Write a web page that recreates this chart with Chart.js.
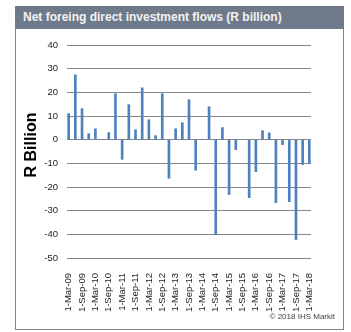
<!DOCTYPE html>
<html>
<head>
<meta charset="utf-8">
<script src="https://cdn.jsdelivr.net/npm/chart.js@4/dist/chart.umd.min.js"></script>
<style>
  body { margin: 0; background: #fff; }
  #frame { position: absolute; left: 15px; top: 6px; width: 327px; height: 322px; border: 1px solid #7f868e; }
  #head { position: absolute; left: 15px; top: 6px; width: 329px; height: 23px; background: #6e7a8a;
          color: #f2f2f2; font: bold 12px "Liberation Sans", Arial, sans-serif; line-height: 23px;
          padding-left: 8px; box-sizing: border-box; }
  #c { position: absolute; left: 0; top: 0; }
</style>
</head>
<body>
<div id="frame"></div>
<div id="head">Net foreing direct investment flows (R billion)</div>
<canvas id="c" width="351" height="332"></canvas>
<script>
const quarters = [
  "1-Mar-09", "1-Jun-09", "1-Sep-09", "1-Dec-09",
  "1-Mar-10", "1-Jun-10", "1-Sep-10", "1-Dec-10",
  "1-Mar-11", "1-Jun-11", "1-Sep-11", "1-Dec-11",
  "1-Mar-12", "1-Jun-12", "1-Sep-12", "1-Dec-12",
  "1-Mar-13", "1-Jun-13", "1-Sep-13", "1-Dec-13",
  "1-Mar-14", "1-Jun-14", "1-Sep-14", "1-Dec-14",
  "1-Mar-15", "1-Jun-15", "1-Sep-15", "1-Dec-15",
  "1-Mar-16", "1-Jun-16", "1-Sep-16", "1-Dec-16",
  "1-Mar-17", "1-Jun-17", "1-Sep-17", "1-Dec-17",
  "1-Mar-18"
];

const fdiFlows = [
  11.0, 27.4, 13.1, 2.5,
  4.6, 0, 3.0, 19.4,
  -8.3, 14.8, 4.2, 21.9,
  8.4, 1.7, 19.4, -16.3,
  4.6, 7.2, 16.9, -12.9,
  0, 13.9, -40.1, 5.1,
  -23.2, -4.2, 0, -24.5,
  -13.5, 3.8, 2.9, -26.6,
  -2.1, -26.2, -42.2, -10.5,
  -10.1
];

// every other quarter gets a label (Mar / Sep)
const tickLabels = quarters.filter((q, i) => i % 2 === 0);

const yTicks = [-50, -40, -30, -20, -10, 0, 10, 20, 30, 40];

const FONT = '"Liberation Sans", Arial, sans-serif';

const extras = {
  id: "extras",
  afterDraw(chart) {
    const ctx = chart.ctx;
    ctx.save();
    ctx.fillStyle = "#000";
    ctx.font = "bold 16px " + FONT;
    ctx.textAlign = "center";
    ctx.textBaseline = "middle";
    ctx.translate(32, 145);
    ctx.rotate(-Math.PI / 2);
    ctx.fillText("R Billion", 0, 0);
    ctx.restore();

    ctx.save();
    ctx.fillStyle = "#404040";
    ctx.font = "8px " + FONT;
    ctx.textAlign = "right";
    ctx.textBaseline = "middle";
    ctx.fillText("\u00a9 2018 IHS Markit", 335, 317);
    ctx.restore();
  }
};

new Chart(document.getElementById("c"), {
  type: "bar",
  data: {
    datasets: [{
      data: fdiFlows.map((v, i) => ({ x: i, y: v })),
      backgroundColor: "#4f81bd",
      barThickness: 2,
      clip: false
    }]
  },
  plugins: [extras],
  options: {
    responsive: false,
    animation: false,
    layout: { padding: { left: 0, top: 45, right: 40, bottom: 0 } },
    plugins: { legend: { display: false }, tooltip: { enabled: false } },
    scales: {
      x: {
        type: "linear",
        offset: false,
        min: -0.25,
        max: quarters.length - 0.75,
        grid: { display: false },
        border: { display: false },
        afterBuildTicks: (s) => { s.ticks = tickLabels.map((_, k) => ({ value: k * 2 })); },
        afterFit: (s) => { s.height = 74; },
        ticks: {
          autoSkip: false,
          minRotation: 90,
          maxRotation: 90,
          padding: 7,
          color: "#222",
          font: { family: FONT, size: 9.5 },
          callback: (v) => tickLabels[v / 2]
        }
      },
      y: {
        min: -50,
        max: 40,
        afterBuildTicks: (s) => { s.ticks = yTicks.map((v) => ({ value: v })); },
        afterFit: (s) => { s.width = 67; },
        grid: { color: "#878787", lineWidth: 1, drawTicks: false },
        border: { display: false },
        ticks: {
          padding: 9,
          color: "#222",
          font: { family: FONT, size: 9.5 }
        }
      }
    }
  }
});
</script>
</body>
</html>
